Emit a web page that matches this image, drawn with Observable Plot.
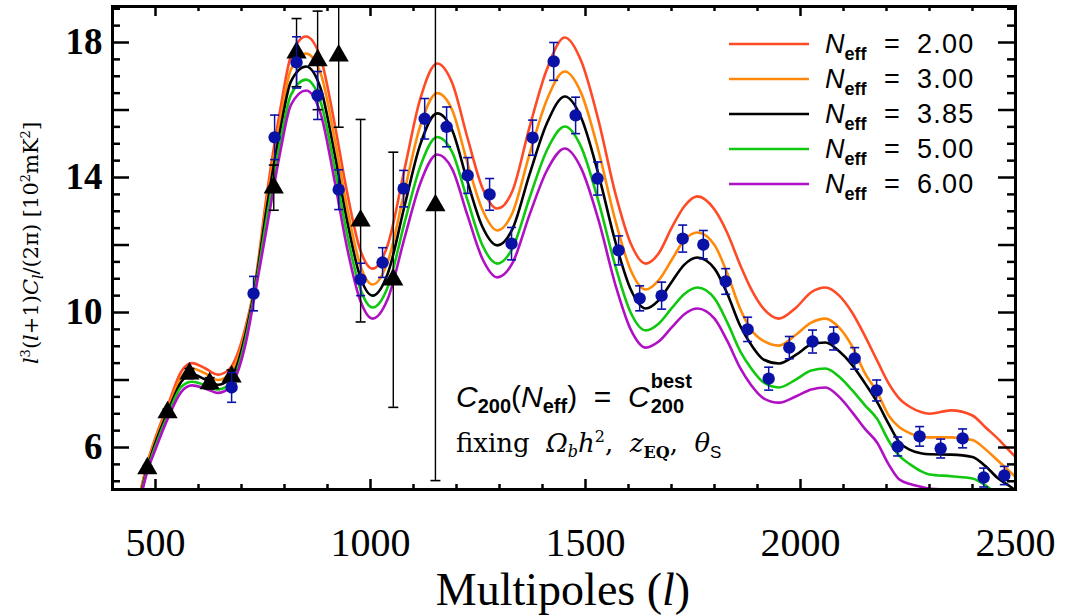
<!DOCTYPE html>
<html><head><meta charset="utf-8">
<script src="https://cdn.jsdelivr.net/npm/d3@7"></script>
<script src="https://cdn.jsdelivr.net/npm/@observablehq/plot@0.6"></script>
<style>
html,body{margin:0;padding:0;background:#fff;}
#chart{width:1067px;height:615px;}
svg{display:block;}
</style>
</head><body><div id="chart"></div>
<script>
// ---------- data ----------
const ell = [460,480,500,530,560,585,615,645,670,690,710,730,760,790,815,850,885,915,945,975,1005,1040,1080,1115,1155,1190,1225,1260,1295,1330,1370,1410,1452,1490,1530,1570,1605,1640,1670,1700,1730,1760,1800,1830,1860,1885,1915,1950,1990,2025,2058,2090,2120,2150,2178,2205,2230,2255,2280,2300,2350,2400,2430,2460,2490,2510];
const neff200 = [4.4,5.5,6.3,7.3,8.25,8.5,8.35,8.16,8.3,8.75,9.6,10.75,13.6,16.0,17.6,18.18,17.5,15.7,13.6,11.9,11.3,12.0,14.3,16.3,17.38,16.8,15.2,13.7,13.08,13.6,15.5,17.2,18.15,17.45,15.7,13.5,12.05,11.45,11.75,12.5,13.15,13.44,13.05,12.35,11.4,10.7,10.1,9.82,10.15,10.6,10.74,10.5,10.0,9.3,8.58,7.9,7.45,7.2,7.05,7.0,7.1,6.95,6.6,6.25,5.85,5.6];
const neff300 = [4.35,5.45,6.25,7.2,8.1,8.34,8.2,8.0,8.15,8.6,9.5,10.7,13.4,15.7,17.2,17.67,17.05,15.25,13.15,11.45,10.83,11.5,13.65,15.5,16.5,16.0,14.45,13.05,12.43,12.95,14.7,16.3,17.14,16.5,14.8,12.7,11.26,10.68,10.95,11.55,12.15,12.37,12.0,11.15,10.1,9.5,9.15,9.02,9.35,9.7,9.82,9.55,9.0,8.2,7.65,6.95,6.6,6.42,6.32,6.3,6.3,6.22,5.95,5.6,5.25,5.0];
const neff385 = [4.3,5.35,6.15,7.1,7.95,8.17,8.02,7.86,8.0,8.45,9.4,10.65,13.2,15.4,16.85,17.29,16.6,14.8,12.75,11.1,10.5,11.15,13.2,14.95,15.9,15.4,13.9,12.55,11.99,12.47,14.1,15.6,16.4,15.77,14.1,12.07,10.69,10.12,10.36,10.9,11.42,11.63,11.3,10.55,9.6,9.05,8.6,8.49,8.75,9.05,9.11,8.85,8.45,7.9,7.35,6.7,6.15,5.93,5.83,5.8,5.79,5.72,5.45,5.08,4.82,4.6];
const neff500 = [4.25,5.3,6.05,7.0,7.8,7.95,7.85,7.72,7.85,8.3,9.25,10.55,12.9,15.05,16.45,16.9,16.2,14.4,12.35,10.75,10.15,10.75,12.7,14.3,15.2,14.75,13.35,12.0,11.45,11.9,13.4,14.8,15.51,14.9,13.3,11.35,10.0,9.47,9.67,10.12,10.55,10.74,10.42,9.7,8.85,8.35,7.92,7.78,8.02,8.28,8.34,8.1,7.7,7.25,6.85,6.2,5.75,5.5,5.3,5.2,5.15,5.08,4.88,4.6,4.4,4.3];
const neff600 = [4.2,5.25,5.95,6.9,7.65,7.84,7.75,7.62,7.75,8.2,9.1,10.45,12.6,14.75,16.15,16.58,15.85,14.0,11.95,10.4,9.82,10.4,12.25,13.8,14.68,14.25,12.9,11.6,11.04,11.46,12.9,14.2,14.86,14.27,12.75,10.8,9.5,8.96,9.14,9.55,9.95,10.12,9.82,9.15,8.35,7.85,7.45,7.33,7.52,7.72,7.78,7.5,7.05,6.55,6.15,5.5,5.05,4.92,4.84,4.78,4.76,4.76,4.6,4.4,4.3,4.2];

const seriesLabels = ["2.00","3.00","3.85","5.00","6.00"];
const seriesColors = ["#ff4a26","#ff8a0a","#000000","#10c810","#b010c4"];
const seriesValues = [neff200, neff300, neff385, neff500, neff600];

// blue points (with error bars)
const blueL = [677,728,777,828,877,926,977,1028,1077,1126,1177,1226,1277,1328,1377,1426,1477,1528,1577,1626,1677,1726,1774,1826,1877,1926,1974,2028,2077,2126,2177,2226,2277,2326,2377,2426,2474];
const blueV = [7.78,10.56,15.19,17.41,16.43,13.64,10.98,11.48,13.67,15.74,15.5,14.06,13.5,12.04,15.18,17.44,15.84,13.97,11.84,10.42,10.5,12.19,12.01,10.92,9.5,8.04,8.96,9.14,9.23,8.64,7.69,6.03,6.33,5.97,6.27,5.11,5.17];
const blueE = [0.44,0.51,0.66,0.76,0.71,0.59,0.48,0.44,0.54,0.6,0.59,0.53,0.47,0.48,0.52,0.56,0.54,0.49,0.43,0.37,0.4,0.4,0.42,0.38,0.36,0.34,0.33,0.34,0.34,0.32,0.31,0.28,0.29,0.28,0.28,0.28,0.27];

// black triangles (with error bars)
const triL = [481,528,579,626,677,775,828,877,926,977,1053,1151];
const triV = [5.38,7.04,8.19,7.9,8.1,13.7,17.7,17.47,17.61,12.72,10.97,13.17];
const triE = [0.08,0.1,0.15,0.17,0.2,0.67,1.01,1.46,2.12,3.0,3.78,8.15];

// ticks
const xMajor = [500,1000,1500,2000,2500];
const xMinor = d3.range(400, 2501, 100).filter(v => v % 500 !== 0);
const yMajor = [6,8,10,12,14,16,18];
const yMinor = d3.range(5, 19.01, 0.5).filter(v => v % 2 !== 0);
const yLabels = [6,10,14,18];

// ---------- build ----------
const blue = blueL.map((l,i)=>({l, v:blueV[i], e:blueE[i]}));
const tri = triL.map((l,i)=>({l, v:triV[i], e:triE[i]}));
const BLUE = "#0a12a6";

const W = 1067, H = 615, mL = 112, mR = 52, mT = 6, mB = 126;
const fw = W - mL - mR, fh = H - mT - mB;

const cap = {draw(ctx, size){ const r = Math.sqrt(size/Math.PI); ctx.moveTo(-r,0); ctx.lineTo(r,0); }};

const lineMarks = seriesValues.map((vals, k) =>
  Plot.line(ell.map((l,i)=>({l, v:vals[i]})), {x:"l", y:"v", stroke: seriesColors[k], strokeWidth: 2.6, curve: "monotone-x", clip: true})
);

const chart = Plot.plot({
  width: W, height: H,
  marginLeft: mL, marginRight: mR, marginTop: mT, marginBottom: mB,
  x: {domain: [400, 2500], axis: null},
  y: {domain: [4.756, 19.067], axis: null},
  style: {background: "white", overflow: "visible"},
  marks: [
    ...lineMarks,
    Plot.ruleX(tri, {x:"l", y1: d=>d.v-d.e, y2: d=>d.v+d.e, stroke:"black", strokeWidth:1.4, clip:true}),
    Plot.dot(tri, {x:"l", y: d=>d.v-d.e, symbol: cap, r: 5, stroke:"black", strokeWidth:1.6, clip:true}),
    Plot.dot(tri, {x:"l", y: d=>d.v+d.e, symbol: cap, r: 5, stroke:"black", strokeWidth:1.6, clip:true}),
    Plot.dot(tri, {x:"l", y:"v", symbol:"triangle", r: 7.5, fill:"black", stroke:"none"}),
    Plot.ruleX(blue, {x:"l", y1: d=>d.v-d.e, y2: d=>d.v+d.e, stroke: BLUE, strokeWidth:1.5, clip:true}),
    Plot.dot(blue, {x:"l", y: d=>d.v-d.e, symbol: cap, r: 4.5, stroke: BLUE, strokeWidth:1.6}),
    Plot.dot(blue, {x:"l", y: d=>d.v+d.e, symbol: cap, r: 4.5, stroke: BLUE, strokeWidth:1.6}),
    Plot.dot(blue, {x:"l", y:"v", r: 6.2, fill: BLUE, stroke:"none"}),
    Plot.tickX(xMajor, {x: d=>d, insetTop: fh-10, stroke:"black", strokeWidth:2.5}),
    Plot.tickX(xMinor, {x: d=>d, insetTop: fh-5, stroke:"black", strokeWidth:2.5}),
    Plot.tickX(xMajor, {x: d=>d, insetBottom: fh-10, stroke:"black", strokeWidth:2.5}),
    Plot.tickX(xMinor, {x: d=>d, insetBottom: fh-5, stroke:"black", strokeWidth:2.5}),
    Plot.tickY(yMajor, {y: d=>d, insetRight: fw-17, stroke:"black", strokeWidth:2.5}),
    Plot.tickY(yMinor, {y: d=>d, insetRight: fw-8, stroke:"black", strokeWidth:2.5}),
    Plot.tickY(yMajor, {y: d=>d, insetLeft: fw-17, stroke:"black", strokeWidth:2.5}),
    Plot.tickY(yMinor, {y: d=>d, insetLeft: fw-8, stroke:"black", strokeWidth:2.5}),
    Plot.frame({stroke:"black", strokeWidth:3}),
    Plot.text(yLabels, {y: d=>d, text: d=>String(d), frameAnchor:"left", textAnchor:"end", dx:-10, fontSize:37, fontWeight:"bold", fontFamily:"Liberation Serif", fill:"black"}),
    Plot.text(xMajor, {x: d=>d, text: d=>String(d), frameAnchor:"bottom", lineAnchor:"middle", dy: 54, fontSize:40, fontFamily:"Liberation Serif", fill:"black"})
  ]
});
document.getElementById("chart").appendChild(chart);

// ---------- rich text (titles, legend, annotation) ----------
const svg = d3.select(chart);
function rich(sel, parts){
  let cur = 0;
  for (const p of parts){
    const t = sel.append("tspan").text(p.t);
    const s = p.sh || 0;
    if (s !== cur) t.attr("dy", s - cur);
    cur = s;
    if (p.i) t.attr("font-style","italic");
    if (p.b) t.attr("font-weight","bold");
    if (p.fs) t.attr("font-size", p.fs);
    if (p.ff) t.attr("font-family", p.ff);
    if (p.dx) t.attr("dx", p.dx);
  }
  return sel;
}
const ann = svg.append("g").attr("text-anchor","start");
function txt(x, y, ff, fs, anchor){
  return ann.append("text").attr("x", x).attr("y", y).attr("font-family", ff).attr("font-size", fs)
    .attr("text-anchor", anchor || "start").attr("fill","black").style("white-space","pre");
}

// x axis title
rich(txt(563, 605, "Liberation Serif", 46, "middle"), [{t:"Multipoles ("},{t:"l", i:true},{t:")"}]);

// y axis title
rich(ann.append("text").attr("transform","translate(38,243) rotate(-90)").attr("text-anchor","middle")
  .attr("font-family","DejaVu Serif").attr("font-size", 21).attr("fill","black"),
  [{t:"l", i:true},{t:"3", fs:13, sh:-8},{t:"(", sh:0},{t:"l", i:true},{t:"+1)"},{t:"C", i:true},{t:"l", i:true, fs:14, sh:5},
   {t:"/(2π) [10", sh:0},{t:"2", fs:13, sh:-8},{t:"mK", sh:0},{t:"2", fs:13, sh:-8},{t:"]", sh:0}]);

// legend
seriesLabels.forEach((lab, i) => {
  const y = 44 + 35*i;
  ann.append("line").attr("x1",729).attr("x2",809).attr("y1",y).attr("y2",y)
    .attr("stroke", seriesColors[i]).attr("stroke-width",2.6);
  rich(txt(825, y+9, "Liberation Sans", 27), [{t:"N", i:true},{t:"eff", b:true, fs:18, sh:7}]);
  txt(884, y+9, "Liberation Sans", 27).text("=");
  txt(917, y+9, "Liberation Sans", 27).attr("letter-spacing",1.2).text(lab);
});

// annotation line 1
const l1 = rich(txt(456, 407, "Liberation Sans", 30),
  [{t:"C", i:true},{t:"200", b:true, fs:20, sh:6},{t:"(", sh:0},{t:"N", i:true},{t:"eff", b:true, fs:20, sh:6},{t:")", sh:0},{t:"  =  "},{t:"C", i:true}]);
const endX = 456 + l1.node().getComputedTextLength();
txt(endX + 1, 388, "Liberation Sans", 20).attr("font-weight","bold").text("best");
txt(endX + 1, 413, "Liberation Sans", 20).attr("font-weight","bold").text("200");

// annotation line 2
rich(txt(456, 452, "DejaVu Serif", 26),
  [{t:"fixing  "},{t:"Ω", i:true},{t:"b", i:true, fs:16, sh:5},{t:"h", i:true, sh:0},{t:"2", fs:16, sh:-10},{t:",  ", sh:0},
   {t:"z", i:true},{t:"EQ", b:true, fs:16, sh:6},{t:",  ", sh:0},{t:"θ", i:true},{t:"S", fs:17, sh:6, ff:"Liberation Sans"}]);
</script>
</body></html>
